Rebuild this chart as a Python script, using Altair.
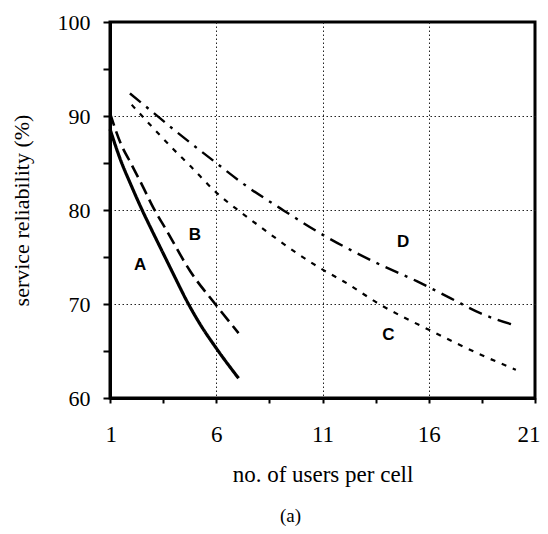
import altair as alt
import pandas as pd

# ---- data ----
a_x = [1, 1.5, 2, 2.45, 3, 3.5, 4, 4.62, 5.2, 6, 7.05]
a_y = [88.6, 85.3, 82.6, 80.3, 77.7, 75.4, 73.1, 70.3, 68.0, 65.3, 62.1]

b_x = [1, 1.5, 2.0, 2.5, 3.05, 3.67, 4.8, 5.95, 7.05]
b_y = [90.3, 87.1, 84.9, 82.7, 80.2, 77.8, 73.4, 70.0, 66.9]

c_x = [2.02, 2.96, 3.88, 4.77, 6.03, 7.13, 8.08, 9.8, 10.9, 12.0, 13.74, 16.06, 18.45, 20.1]
c_y = [91.2, 88.9, 86.7, 84.7, 81.8, 79.8, 78.2, 75.4, 73.8, 72.4, 69.9, 67.2, 64.6, 63.0]

d_x = [1.94, 2.96, 4.14, 6, 7.45, 9.0, 11.06, 13.42, 15.46, 17.04, 18.45, 20.1]
d_y = [92.4, 90.5, 88.3, 85.0, 82.5, 80.2, 77.3, 74.5, 72.4, 70.6, 69.0, 67.7]

label_text = ["A", "B", "C", "D"]
label_x = [2.42, 5.0, 14.1, 14.8]
label_y = [74.2, 77.3, 66.7, 76.6]

x_ticks = [1, 3.5, 6, 8.5, 11, 13.5, 16, 18.5, 21]
y_ticks = [60, 65, 70, 75, 80, 85, 90, 95, 100]

series = {
    "A": (a_x, a_y),
    "B": (b_x, b_y),
    "C": (c_x, c_y),
    "D": (d_x, d_y),
}
styles = {
    "A": dict(strokeWidth=3.2, strokeDash=[1, 0]),
    "B": dict(strokeWidth=2.6, strokeDash=[13, 6]),
    "C": dict(strokeWidth=2.2, strokeDash=[5, 7]),
    "D": dict(strokeWidth=2.4, strokeDash=[14, 7, 3, 7]),
}

SERIF = "Liberation Serif"

x_scale = alt.Scale(domain=[1, 21], nice=False, zero=False)
y_scale = alt.Scale(domain=[60, 100], nice=False, zero=False)

x_axis = alt.Axis(
    title="no. of users per cell",
    values=x_ticks,
    labelExpr="datum.value % 5 == 1 ? datum.label : ''",
    labelFont=SERIF, labelFontSize=23, labelColor="black", labelPadding=20,
    titleFont=SERIF, titleFontSize=23, titleFontWeight="normal", titleColor="black",
    titlePadding=17,
    tickSize=5, tickColor="black", tickWidth=2,
    domainColor="black", domainWidth=3,
    grid=True, gridColor="#222", gridWidth=1, gridDash=[1.5, 2.5],
    gridOpacity={"condition": {"test": "datum.value % 5 == 1 && datum.value > 1 && datum.value < 21", "value": 1}, "value": 0},
    labelFlush=True, labelFlushOffset=5,
)
y_axis = alt.Axis(
    title="service reliability (%)",
    values=y_ticks,
    labelExpr="datum.value % 10 == 0 ? datum.label : ''",
    labelFont=SERIF, labelFontSize=22, labelColor="black", labelPadding=13,
    titleFont=SERIF, titleFontSize=22, titleFontWeight="normal", titleColor="black",
    titlePadding=24,
    tickSize=7, tickColor="black", tickWidth=2,
    domainColor="black", domainWidth=3,
    grid=True, gridColor="#222", gridWidth=1, gridDash=[1.5, 2.5],
    gridOpacity={"condition": {"test": "datum.value % 10 == 0 && datum.value > 60 && datum.value < 100", "value": 1}, "value": 0},
    labelFlush=False,
)

layers = []
for name, (xs, ys) in series.items():
    df = pd.DataFrame({"x": xs, "y": ys})
    st = styles[name]
    layers.append(
        alt.Chart(df).mark_line(
            color="black", strokeWidth=st["strokeWidth"], strokeDash=st["strokeDash"],
            interpolate="monotone", strokeCap="butt",
        ).encode(
            x=alt.X("x:Q", scale=x_scale, axis=x_axis),
            y=alt.Y("y:Q", scale=y_scale, axis=y_axis),
        )
    )

lab_df = pd.DataFrame({"t": label_text, "x": label_x, "y": label_y})
layers.append(
    alt.Chart(lab_df).mark_text(
        font="Liberation Sans", fontSize=17, fontWeight="bold", color="black",
        align="center", baseline="middle",
    ).encode(
        x=alt.X("x:Q", scale=x_scale, axis=x_axis),
        y=alt.Y("y:Q", scale=y_scale, axis=y_axis),
        text="t:N",
    )
)

chart = alt.layer(*layers).properties(
    width=425, height=376,
    padding={"left": 102, "top": 14, "right": 5, "bottom": 128},
    autosize="none",
    title=alt.TitleParams(
        "(a)", orient="bottom", anchor="middle", font=SERIF, fontSize=19,
        fontWeight="normal", color="black", offset=21, dx=-32,
    ),
).configure_view(stroke="black", strokeWidth=3)

chart.save("out.html", embed_options={"renderer": "svg", "actions": False})
